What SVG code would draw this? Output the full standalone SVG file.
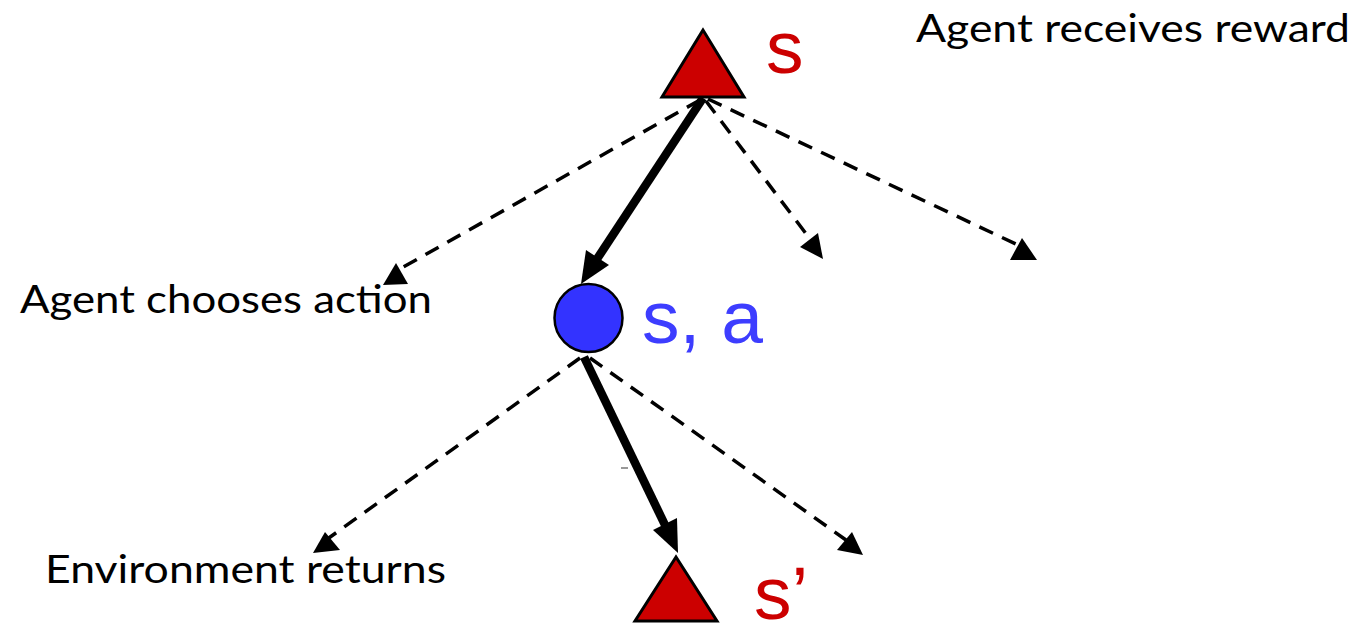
<svg xmlns="http://www.w3.org/2000/svg" width="1358" height="626" viewBox="0 0 1358 626">
<style>
.lbl{font-family:Lato,"Liberation Sans",Arial,sans-serif;fill:#000;font-size:38px}
.sym{font-family:"Liberation Sans",Arial,sans-serif;font-size:75px}
.dash{stroke:#000;stroke-width:3.5;stroke-dasharray:15 10;fill:none}
.solid{stroke:#000;stroke-width:8.5;fill:none}
.head{fill:#000}
</style>
<rect width="1358" height="626" fill="#fff"/>
<g id="connectors">
  <line class="dash" x1="700" y1="100" x2="398" y2="270"/>
  <line class="dash" x1="706" y1="101" x2="813" y2="243"/>
  <line class="dash" x1="708" y1="99" x2="1018" y2="245"/>
  <line class="dash" x1="580" y1="358" x2="326" y2="540"/>
  <line class="dash" x1="590" y1="358" x2="846" y2="540"/>
  <polygon class="head" points="383,285 396,263 408,284"/>
  <polygon class="head" points="800,247 818,233 823,259"/>
  <polygon class="head" points="1010,260 1022,238 1037,260"/>
  <polygon class="head" points="313,553 325,532 340,550"/>
  <polygon class="head" points="837,550 852,532 863,555"/>
  <line class="solid" x1="703" y1="98" x2="597" y2="259"/>
  <polygon class="head" points="581,284 586,250 609,265"/>
  <line class="solid" x1="584" y1="357" x2="665" y2="525"/>
  <polygon class="head" points="678,553 653,530 677,518"/>
  <line x1="621" y1="468" x2="628" y2="468" stroke="#555" stroke-width="1.2"/>
</g>
<g id="node-s">
  <polygon points="703,30 662,97 744,97" fill="#cc0000" stroke="#000" stroke-width="3" stroke-linejoin="miter"/>
  <text class="sym" x="766" y="73" fill="#cc0000">s</text>
</g>
<g id="node-sa">
  <circle cx="588.5" cy="318" r="34" fill="#3333ff" stroke="#000" stroke-width="2.5"/>
  <text class="sym" x="642" y="343" fill="#3d3dff">s, a</text>
</g>
<g id="node-s-prime">
  <polygon points="676,557 635,621 717,621" fill="#cc0000" stroke="#000" stroke-width="3"/>
  <text class="sym" x="754" y="619" fill="#cc0000">s’</text>
</g>
<g id="labels">
  <text class="lbl" x="916" y="42" textLength="434" lengthAdjust="spacingAndGlyphs">Agent receives reward</text>
  <text class="lbl" x="20" y="313" textLength="412" lengthAdjust="spacingAndGlyphs">Agent chooses action</text>
  <text class="lbl" x="45" y="583" textLength="401" lengthAdjust="spacingAndGlyphs">Environment returns</text>
</g>
</svg>
